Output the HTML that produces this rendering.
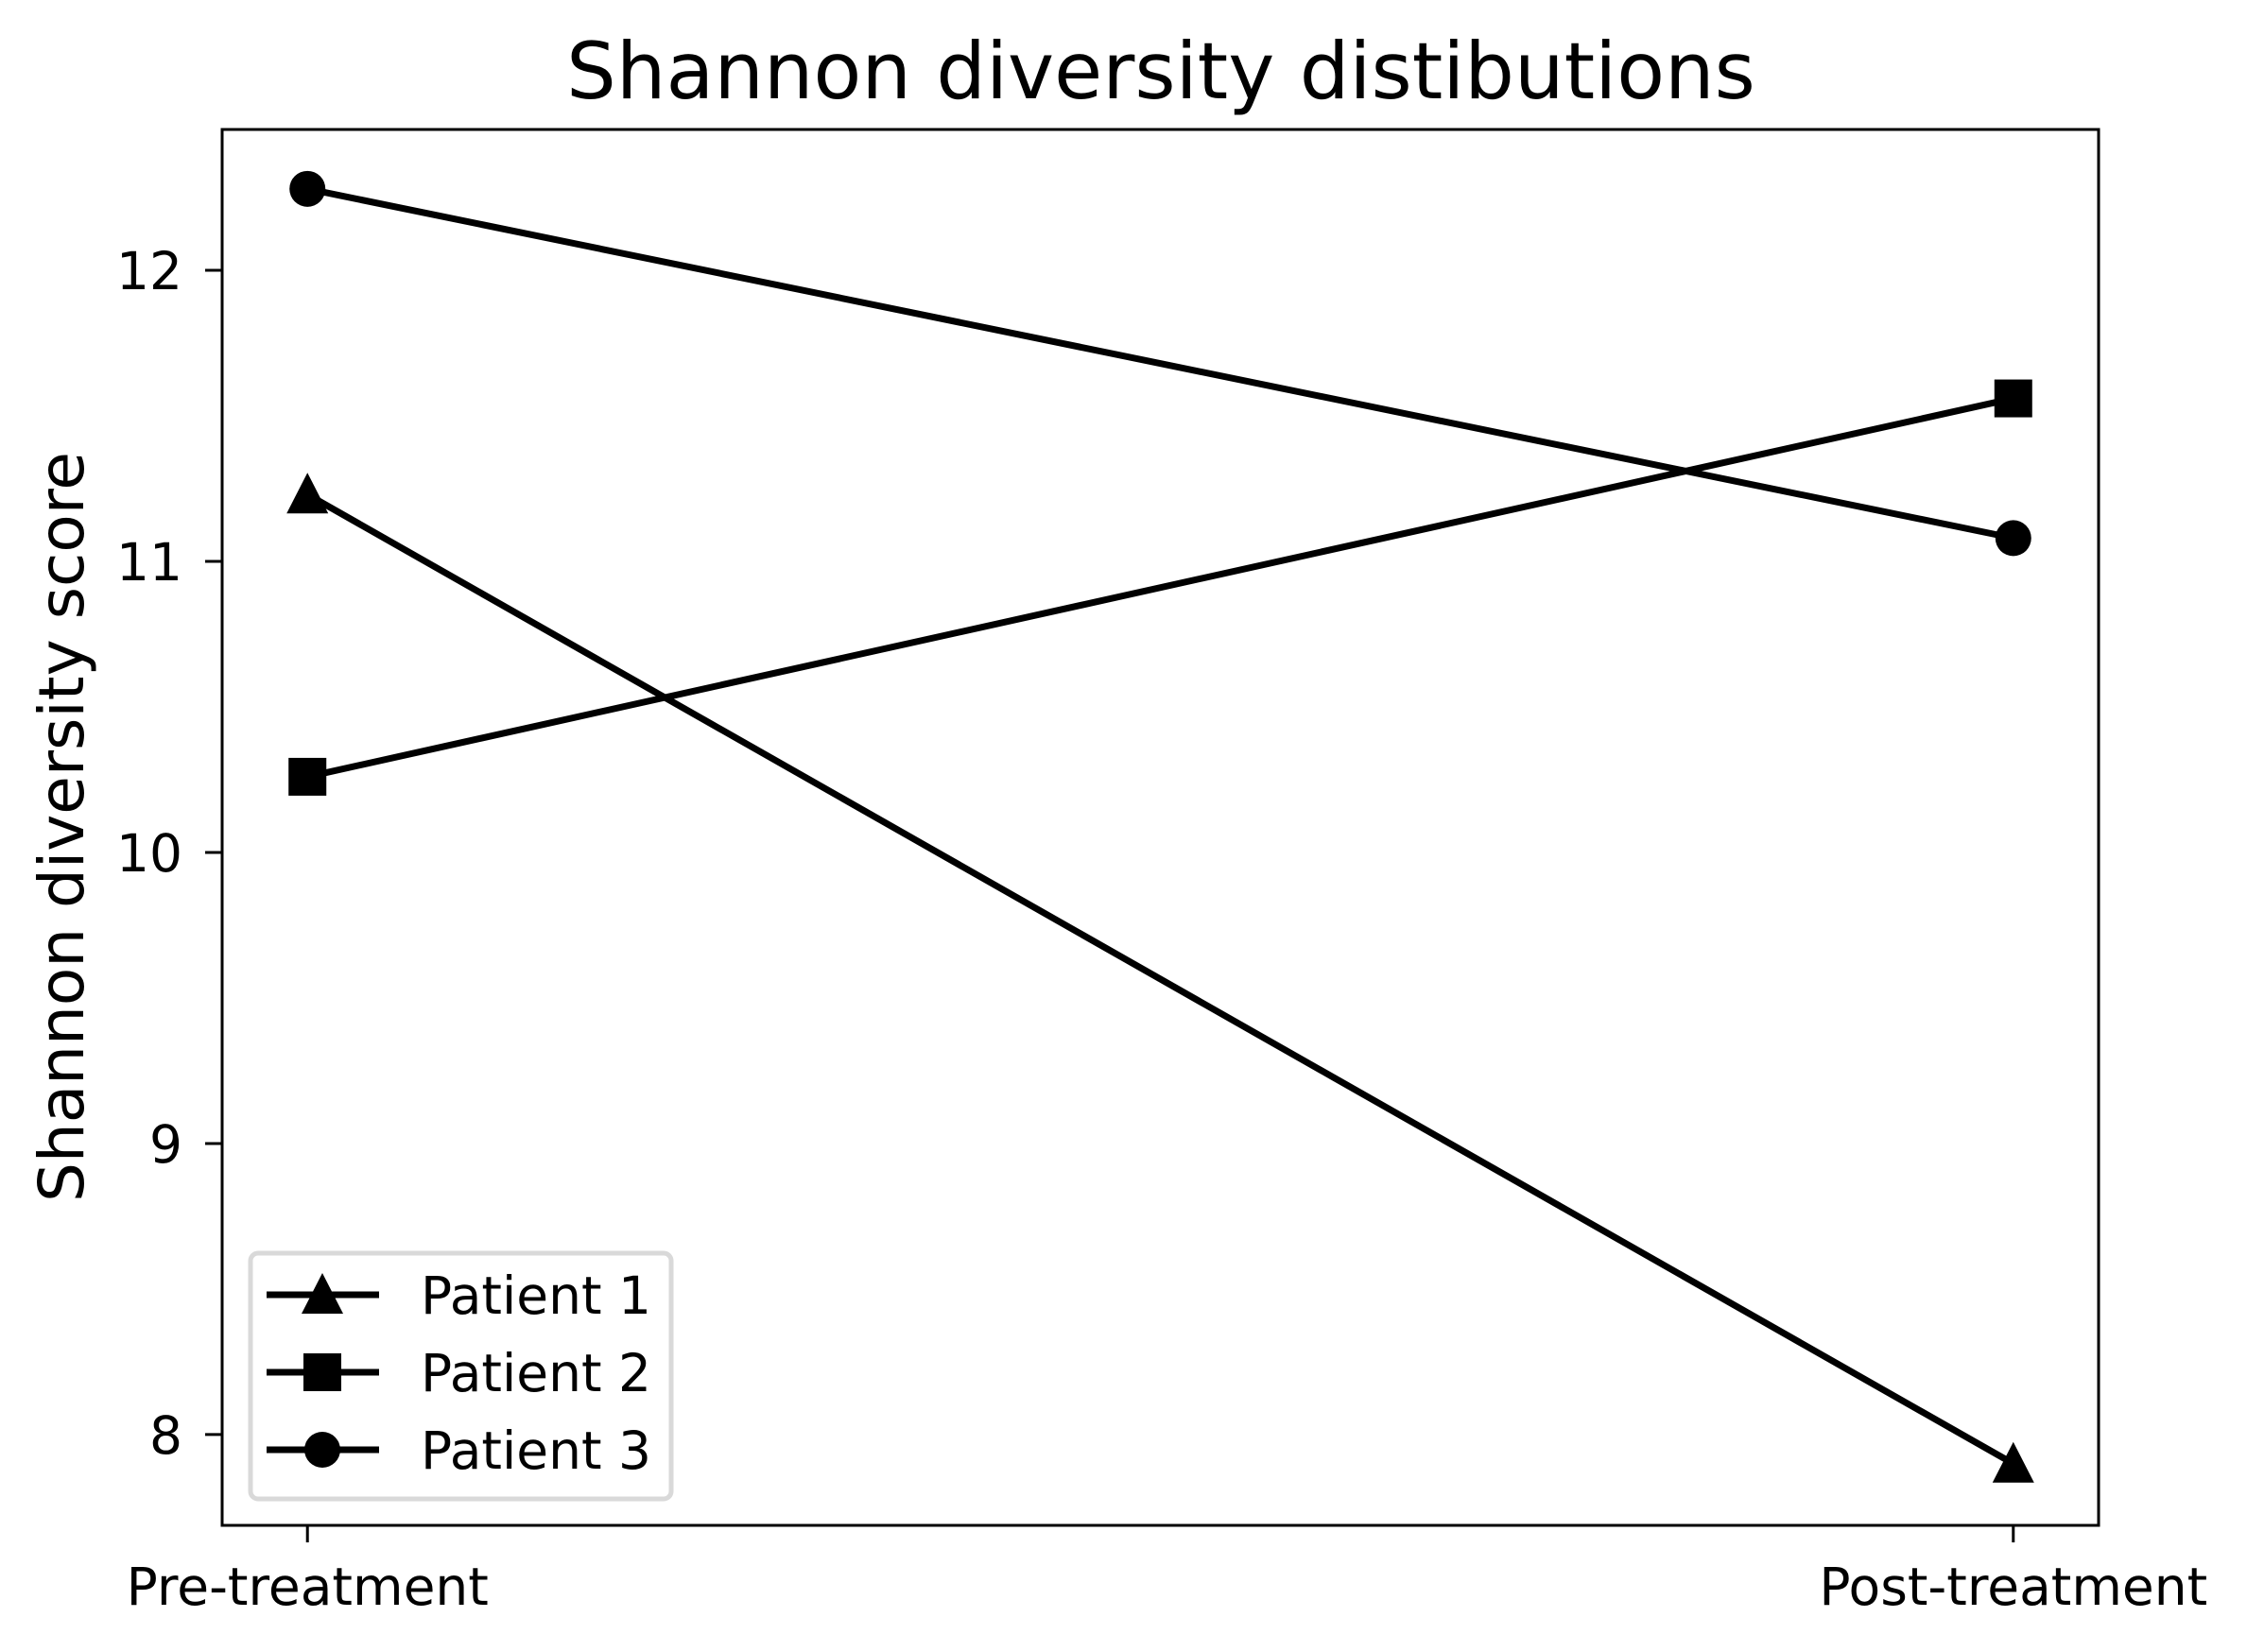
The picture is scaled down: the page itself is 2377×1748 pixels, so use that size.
<!DOCTYPE html>
<html><head><meta charset="utf-8"><style>
html,body{margin:0;padding:0;background:#fff;}
svg{display:block;font-family:"DejaVu Sans","Liberation Sans",sans-serif;}
</style></head><body>
<svg id="chart" width="2377" height="1748" viewBox="0 0 2377 1748" xmlns="http://www.w3.org/2000/svg">
<rect width="2377" height="1748" fill="#fff"/>
<text x="1228" y="104" font-size="83" text-anchor="middle">Shannon diversity distibutions</text>
<text transform="translate(88,875) rotate(-90)" font-size="66" text-anchor="middle">Shannon diversity score</text>
<g id="ticks"></g>
<g id="series"></g>
<rect x="235" y="137" width="1985" height="1477" fill="none" stroke="#000" stroke-width="3"/>
<g id="legend"></g>
</svg>
<script>
const categories = ["Pre-treatment", "Post-treatment"];
const seriesNames = ["Patient 1", "Patient 2", "Patient 3"];
const patient1 = [11.23, 7.9];
const patient2 = [10.26, 11.56];
const patient3 = [12.28, 11.08];
const markers = ["triangle", "square", "circle"];
const yTicks = [8, 9, 10, 11, 12];

const L=235,R=2220,T=137,B=1614,ymin=7.688,ymax=12.484;
const NS="http://www.w3.org/2000/svg";
function X(i){return L+(i+0.05)/1.1*(R-L);}
function Y(v){return B-(v-ymin)/(ymax-ymin)*(B-T);}
function mk(tag,attrs,parent){const e=document.createElementNS(NS,tag);for(const k in attrs)e.setAttribute(k,attrs[k]);parent.appendChild(e);return e;}
function marker(type,x,y,parent){
  let e;
  if(type==="triangle"){e=mk("polygon",{points:`${x},${y-23} ${x-22},${y+20} ${x+22},${y+20}`,fill:"#000"},parent);}
  else if(type==="square"){const s=20;e=mk("rect",{x:x-s,y:y-s,width:2*s,height:2*s,fill:"#000"},parent);}
  else {e=mk("circle",{cx:x,cy:y,r:19,fill:"#000"},parent);}
  return e;
}
const tg=document.getElementById("ticks");
yTicks.forEach(v=>{
  const l=mk("line",{x1:L-18,x2:L,y1:Y(v),y2:Y(v),stroke:"#000","stroke-width":3},tg);
  
  
  const t=mk("text",{x:L-42,y:Y(v)+20,"font-size":55,"text-anchor":"end"},tg);
  t.textContent=v;
  
  
});
categories.forEach((c,i)=>{
  const l=mk("line",{x1:X(i),x2:X(i),y1:B,y2:B+18,stroke:"#000","stroke-width":3},tg);
  
  
  const t=mk("text",{x:X(i),y:1698,"font-size":55,"text-anchor":"middle"},tg);
  t.textContent=c;
  
  
});
const sg=document.getElementById("series");
[patient1,patient2,patient3].forEach((vals,si)=>{
  const p=mk("polyline",{points:vals.map((v,i)=>X(i)+","+Y(v)).join(" "),fill:"none",stroke:"#000","stroke-width":7},sg);
  
  
  vals.forEach((v,i)=>{
    const m=marker(markers[si],X(i),Y(v),sg);
    
    
  });
});
const lg=document.getElementById("legend");
const box=mk("rect",{x:265,y:1326,width:445,height:260,rx:8,fill:"#fff",stroke:"#d9d9d9","stroke-width":5},lg);


seriesNames.forEach((n,i)=>{
  const y=1370+i*82;
  const l=mk("line",{x1:282,x2:401,y1:y,y2:y,stroke:"#000","stroke-width":7},lg);
  
  
  const m=marker(markers[i],341,y,lg);
  
  
  const t=mk("text",{x:445,y:y+20,"font-size":55},lg);
  t.textContent=n;
  
  
});
</script>
</body></html>
